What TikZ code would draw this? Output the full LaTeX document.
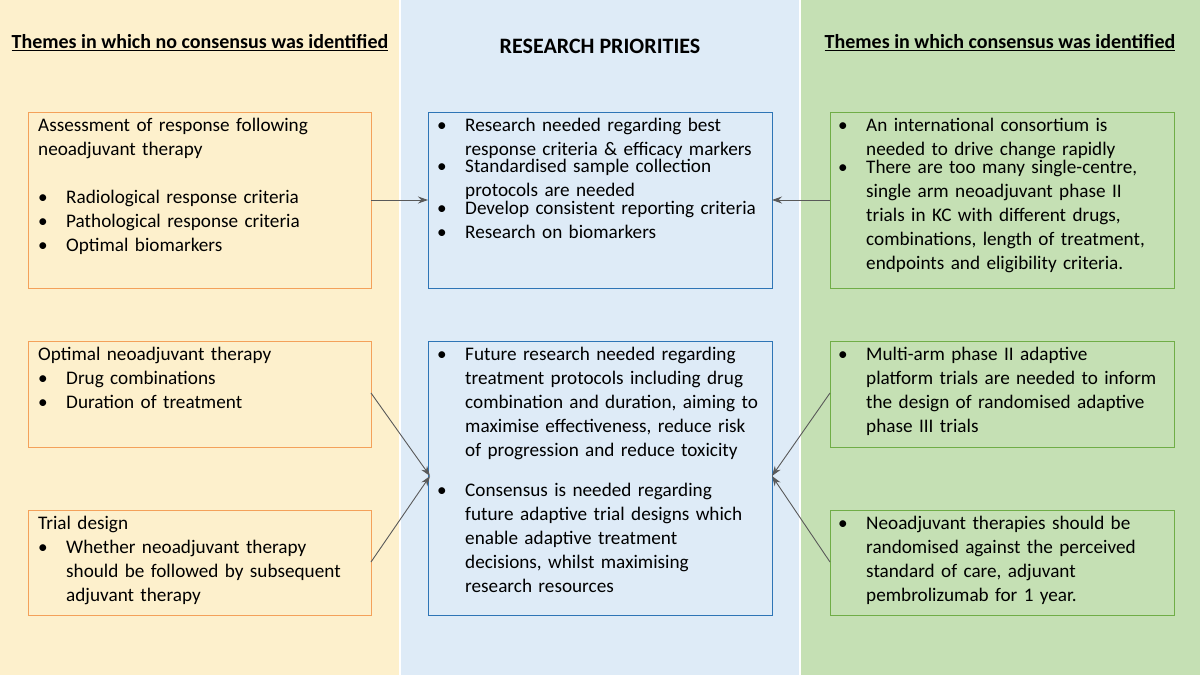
\documentclass[tikz,border=0pt]{standalone}
\usepackage{fontspec}
\setmainfont{Carlito}
\usetikzlibrary{arrows.meta}
\definecolor{ybg}{HTML}{FDF0CC}
\definecolor{bbg}{HTML}{DEEBF7}
\definecolor{gbg}{HTML}{C5E0B4}
\definecolor{obd}{HTML}{F4A15A}
\definecolor{bbd}{HTML}{2E75B6}
\definecolor{gbd}{HTML}{70AD47}
\newcommand{\bl}[1]{\noindent\makebox[28pt][l]{•}\parbox[t]{305pt}{\raggedright#1}\par}
\tikzset{
 box/.style={draw=#1, line width=0.9pt, fill=none},
 txt/.style={anchor=north west, inner sep=0pt, text width=#1, align=left, font=\fontsize{19.2}{24}\selectfont},
 hdr/.style={font=\fontsize{20}{22}\selectfont\bfseries},
 arr/.style={draw=black!65, line width=0.9pt, -{Stealth[length=10pt,width=7pt]}}
}
\begin{document}
\begin{tikzpicture}[x=1pt,y=-1pt]
\useasboundingbox (0,0) rectangle (1200,675);
\fill[ybg] (0,0) rectangle (399,675);
\fill[bbg] (401,0) rectangle (799,675);
\fill[gbg] (801,0) rectangle (1200,675);
\node[hdr] (h1) at (200,43) {\underline{Themes in which no consensus was identified}};
\node[hdr,font=\fontsize{22}{24}\selectfont\bfseries] (h2) at (600,46) {RESEARCH PRIORITIES};
\node[hdr] (h3) at (1000,43) {\underline{Themes in which consensus was identified}};
% boxes
\draw[box=obd] (28,112) rectangle (371,288); \coordinate (L1) at (371,200);
\draw[box=obd] (28,341) rectangle (371,447); \coordinate (L2) at (371,393);
\draw[box=obd] (28,510) rectangle (371,615); \coordinate (L3) at (371,562);
\draw[box=bbd] (428,112) rectangle (772,288); \coordinate (M1w) at (428,200); \coordinate (M1e) at (772,200);
\draw[box=bbd] (428,341) rectangle (772,615); \coordinate (M2w) at (430,476); \coordinate (M2e) at (772,476);
\draw[box=gbd] (830,112) rectangle (1174,288); \coordinate (R1) at (830,200);
\draw[box=gbd] (830,341) rectangle (1174,447); \coordinate (R2) at (830,393);
\draw[box=gbd] (830,510) rectangle (1174,615); \coordinate (R3) at (830,562);
% texts
\node[txt=340pt] (t1) at (38,118) {Assessment of response following\\ neoadjuvant therapy\par\vspace{24pt}
\bl{Radiological response criteria}\bl{Pathological response criteria}\bl{Optimal biomarkers}};
\node[txt=340pt] (t2) at (38,347) {Optimal neoadjuvant therapy\par
\bl{Drug combinations}\bl{Duration of treatment}};
\node[txt=340pt] (t3) at (38,516) {Trial design\par
\bl{Whether neoadjuvant therapy\\ should be followed by subsequent\\ adjuvant therapy}};
\node[txt=340pt] (t4) at (437,118) {\bl{Research needed regarding best\\ response criteria \& efficacy markers}
\bl{Standardised sample collection\\ protocols are needed}\bl{Develop consistent reporting criteria}\bl{Research on biomarkers}};
\node[txt=340pt] (t5) at (437,347) {\bl{Future research needed regarding\\ treatment protocols including drug\\ combination and duration, aiming to\\ maximise effectiveness, reduce risk\\ of progression and reduce toxicity}\vspace{22pt}
\bl{Consensus is needed regarding\\ future adaptive trial designs which\\ enable adaptive treatment\\ decisions, whilst maximising\\ research resources}};
\node[txt=340pt] (t6) at (838,118) {\bl{An international consortium is\\ needed to drive change rapidly}
\bl{There are too many single-centre,\\ single arm neoadjuvant phase II\\ trials in KC with different drugs,\\ combinations, length of treatment,\\ endpoints and eligibility criteria.}};
\node[txt=340pt] (t7) at (838,347) {\bl{Multi-arm phase II adaptive\\ platform trials are needed to inform\\ the design of randomised adaptive\\ phase III trials}};
\node[txt=340pt] (t8) at (838,516) {\bl{Neoadjuvant therapies should be\\ randomised against the perceived\\ standard of care, adjuvant\\ pembrolizumab for 1 year.}};
% arrows
\draw[arr] (L1) -- (M1w);
\draw[arr] (R1) -- (M1e);
\draw[arr] (L2) -- (M2w);
\draw[arr] (L3) -- (M2w);
\draw[arr] (R2) -- (M2e);
\draw[arr] (R3) -- (M2e);
\end{tikzpicture}
\end{document}
